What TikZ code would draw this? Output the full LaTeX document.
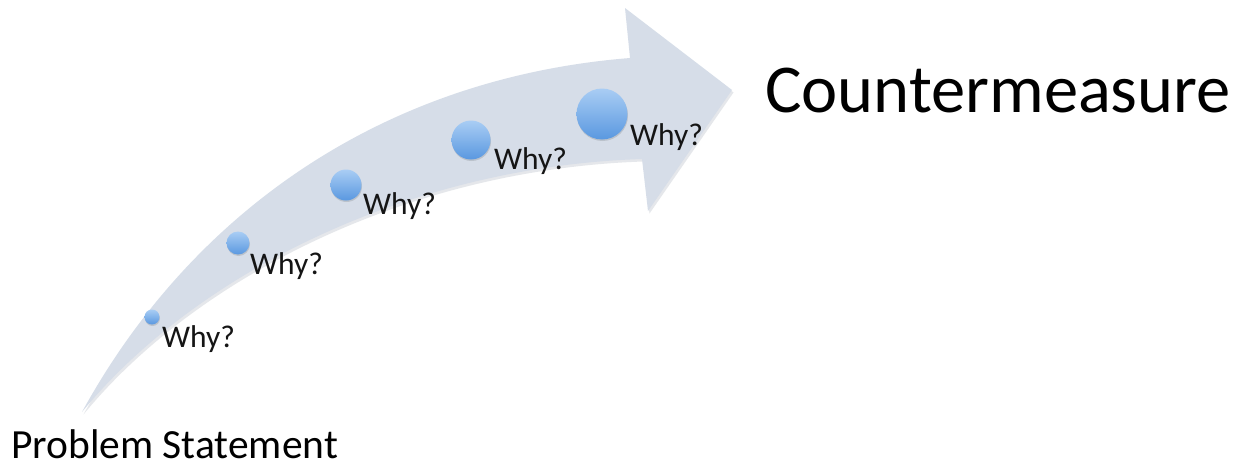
\documentclass[tikz,border=0pt]{standalone}
\usepackage{fontspec}
\setmainfont{Carlito}
\begin{document}
\begin{tikzpicture}[x=1pt,y=-1pt,
  band/.style={fill=bandfill, draw=none},
  ball/.style={circle, inner sep=0pt, minimum size=#1, top color=balltop, bottom color=ballbot, draw=none},
  whylabel/.style={anchor=base west, inner sep=0pt, text=txt, font=\fontsize{31.5}{38}\selectfont},
  title/.style={anchor=base west, inner sep=0pt, text=black}]
\definecolor{bandfill}{HTML}{D6DDE8}
\definecolor{bandshadow}{HTML}{9AA3B0}
\definecolor{balltop}{HTML}{A9CDF4}
\definecolor{ballbot}{HTML}{5A98E0}
\definecolor{txt}{HTML}{151515}
\useasboundingbox (0,0) rectangle (1242,466);
\fill[white] (0,0) rectangle (1242,466);

% curved arrow: soft drop shadow, then the band itself
\fill[bandshadow, opacity=0.25, shift={(1.5,2.5)}]
  (82,412) .. controls (190,215) and (380,78) .. (630,58)
  -- (625,8) -- (732,90) -- (648,211) -- (642,159)
  .. controls (400,167) and (190,280) .. (82,412) -- cycle;
\fill[band]
  (82,412) .. controls (190,215) and (380,78) .. (630,58)
  -- (625,8) -- (732,90) -- (648,211) -- (642,159)
  .. controls (400,167) and (190,280) .. (82,412) -- cycle;

% growing "why" markers
\foreach \n/\x/\y/\d in {1/152/317/15, 2/238/243/23, 3/346/185/31, 4/471/140/39, 5/602/114/51}{
  \fill[black, opacity=0.12] (\x+0.5,\y+1.5) circle ({\d/2});
  \node[ball=\d pt] (ball\n) at (\x,\y) {};
}

\node[whylabel] (why1) at (162,347) {Why?};
\node[whylabel] (why2) at (250,274) {Why?};
\node[whylabel] (why3) at (363,214) {Why?};
\node[whylabel] (why4) at (494,169) {Why?};
\node[whylabel] (why5) at (630,145) {Why?};

\node[title, font=\fontsize{68.5}{80}\selectfont] (goal) at (765,112) {Countermeasure};
\node[title, font=\fontsize{41.5}{50}\selectfont] (start) at (11,458) {Problem Statement};
\end{tikzpicture}
\end{document}
